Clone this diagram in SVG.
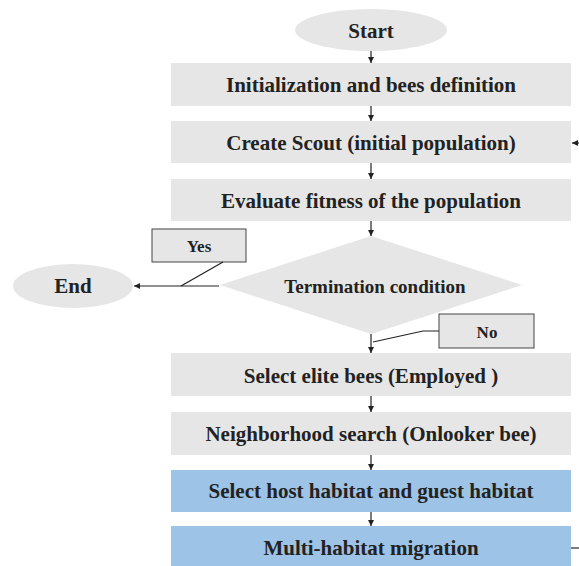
<svg xmlns="http://www.w3.org/2000/svg" width="579" height="566" viewBox="0 0 579 566">
<defs>
<marker id="ah" viewBox="0 0 10 10" refX="10" refY="5" markerWidth="6" markerHeight="6" orient="auto" markerUnits="userSpaceOnUse"><path d="M0,0 L10,5 L0,10 z" fill="#222"/></marker>
<style>
.g{fill:#e6e6e6}
.b{fill:#9dc3e6}
.t{font-family:"Liberation Serif","Times New Roman",serif;font-weight:bold;font-size:21px;fill:#222;text-anchor:middle;dominant-baseline:central}
.m{font-size:19px}
.s{font-size:17px}
.c{stroke:#222;stroke-width:1.2;fill:none}
.lb{fill:#e6e6e6;stroke:#444;stroke-width:1}
</style>
</defs>
<rect width="579" height="566" fill="#fff"/>
<g id="start"><ellipse class="g" cx="371" cy="30" rx="76" ry="21"/><text class="t" x="371" y="31">Start</text></g>
<g id="init"><rect class="g" x="171" y="63" width="400" height="43"/><text class="t" x="371" y="85">Initialization and bees definition</text></g>
<g id="scout"><rect class="g" x="171" y="121" width="400" height="42"/><text class="t" x="371" y="143">Create Scout (initial population)</text></g>
<g id="eval"><rect class="g" x="171" y="179" width="400" height="42"/><text class="t" x="371" y="201">Evaluate fitness of the population</text></g>
<g id="term"><polygon class="g" points="371,236 522,285 371,334 220,285"/><text class="t m" x="375" y="286">Termination condition</text></g>
<g id="end"><ellipse class="g" cx="73" cy="286" rx="60" ry="22"/><text class="t" x="73" y="286">End</text></g>
<g id="yes"><rect class="lb" x="152" y="229" width="94" height="33"/><text class="t s" x="199" y="246">Yes</text></g>
<g id="no"><rect class="lb" x="439" y="314" width="95" height="34"/><text class="t s" x="487" y="332">No</text></g>
<g id="elite"><rect class="g" x="171" y="353" width="400" height="43"/><text class="t" x="371" y="376">Select elite bees (Employed )</text></g>
<g id="neigh"><rect class="g" x="171" y="412" width="400" height="43"/><text class="t" x="371" y="434">Neighborhood search (Onlooker bee)</text></g>
<g id="host"><rect class="b" x="171" y="470" width="400" height="42"/><text class="t" x="371" y="491">Select host habitat and guest habitat</text></g>
<g id="migr"><rect class="b" x="171" y="526" width="400" height="40"/><text class="t" x="371" y="548">Multi-habitat migration</text></g>
<g id="connectors">
<line class="c" x1="371" y1="51" x2="371" y2="63" marker-end="url(#ah)"/>
<line class="c" x1="371" y1="106" x2="371" y2="121" marker-end="url(#ah)"/>
<line class="c" x1="371" y1="163" x2="371" y2="179" marker-end="url(#ah)"/>
<line class="c" x1="371" y1="221" x2="371" y2="236" marker-end="url(#ah)"/>
<line class="c" x1="219" y1="286" x2="134" y2="286" marker-end="url(#ah)"/>
<line class="c" x1="223" y1="262" x2="181" y2="286"/>
<line class="c" x1="371" y1="334" x2="371" y2="353" marker-end="url(#ah)"/>
<polyline class="c" points="439,331 423,331 373,342"/>
<line class="c" x1="371" y1="396" x2="371" y2="412" marker-end="url(#ah)"/>
<line class="c" x1="371" y1="455" x2="371" y2="470" marker-end="url(#ah)"/>
<line class="c" x1="371" y1="512" x2="371" y2="526" marker-end="url(#ah)"/>
<line class="c" x1="585" y1="143" x2="572" y2="143" marker-end="url(#ah)"/>
<line class="c" x1="571" y1="548" x2="579" y2="548"/>
</g>
</svg>
